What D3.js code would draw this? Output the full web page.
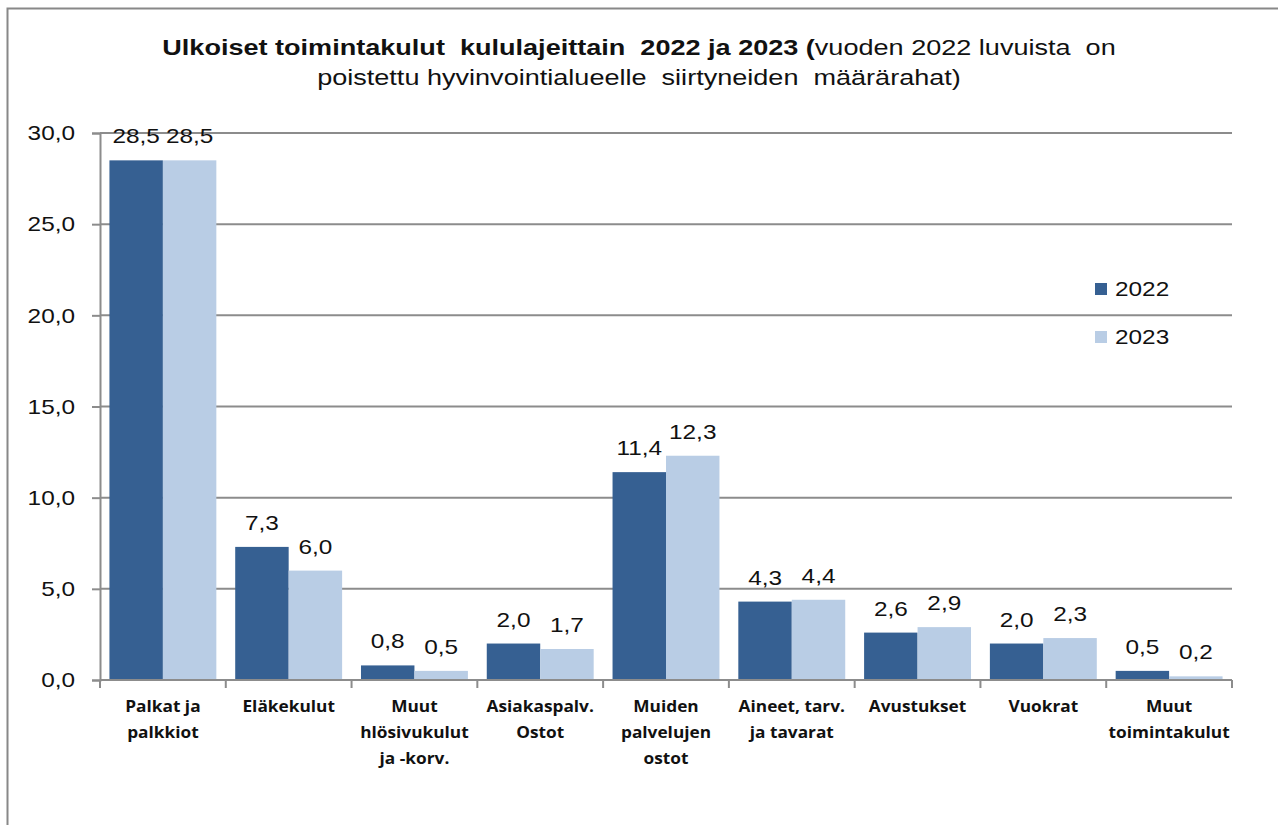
<!DOCTYPE html>
<html><head><meta charset="utf-8">
<script src="https://cdn.jsdelivr.net/npm/d3@7"></script>
<style>body{margin:0;background:#fff}svg{display:block}</style>
</head><body>
<svg id="c" width="1278" height="825"></svg>
<script>
const categories = [["Palkat ja","palkkiot"],["Eläkekulut"],["Muut","hlösivukulut","ja -korv."],["Asiakaspalv.","Ostot"],["Muiden","palvelujen","ostot"],["Aineet, tarv.","ja tavarat"],["Avustukset"],["Vuokrat"],["Muut","toimintakulut"]];
const series = ["2022","2023"];
const values2022 = [28.5,7.3,0.8,2.0,11.4,4.3,2.6,2.0,0.5];
const values2023 = [28.5,6.0,0.5,1.7,12.3,4.4,2.9,2.3,0.2];
const yTicks = [0,5,10,15,20,25,30];
const colors = ["#366092","#B9CDE5"];

const SX = 1.16; // horizontal glyph stretch of the reference
const FONT = "Liberation Sans, Arial, sans-serif";
const svg = d3.select("#c");
const fmt = v => v.toFixed(1).replace(".", ",");
svg.append("path").attr("d","M7.5,825 V8.5 H1278").attr("fill","none").attr("stroke","#888").attr("stroke-width",2);

const L=100,R=1232,T=133,B=680;
const x0 = d3.scaleBand().domain(d3.range(categories.length)).range([L,R]).paddingInner(0.15).paddingOuter(0.075);
const x1 = d3.scaleBand().domain(series).range([0,x0.bandwidth()]);
const y = d3.scaleLinear().domain([0,30]).range([B,T]);

svg.append("g").selectAll("line").data(yTicks.filter(d=>d>0)).join("line")
  .attr("x1",L).attr("x2",R).attr("y1",d=>y(d)).attr("y2",d=>y(d))
  .attr("stroke","#8c8c8c").attr("stroke-width",2);

const ya = svg.append("g").attr("transform",`translate(${L},0)`)
  .call(d3.axisLeft(y).tickValues(yTicks).tickFormat(fmt).tickSize(8).tickPadding(16));
ya.select(".domain").attr("stroke","#8c8c8c").attr("stroke-width",2);
ya.selectAll(".tick line").attr("stroke","#8c8c8c").attr("stroke-width",2);
ya.selectAll("text").attr("font-family",FONT).attr("font-size",21).attr("fill","#111")
  .attr("x",-25/SX).attr("transform",`scale(${SX},1)`);

const data = values2022.map((v,i)=>({i,vals:[v,values2023[i]]}));
const g = svg.append("g").selectAll("g").data(data).join("g").attr("transform",d=>`translate(${x0(d.i)},0)`);
g.selectAll("rect").data(d=>d.vals.map((v,k)=>({v,k}))).join("rect")
  .attr("x",d=>x1(series[d.k])).attr("width",x1.bandwidth())
  .attr("y",d=>y(d.v)).attr("height",d=>B-y(d.v)).attr("fill",d=>colors[d.k]);
g.selectAll("text").data(d=>d.vals.map((v,k)=>({v,k}))).join("text")
  .attr("transform",d=>`translate(${x1(series[d.k])+x1.bandwidth()/2},${y(d.v)-17}) scale(${SX},1)`)
  .attr("text-anchor","middle").attr("font-family",FONT).attr("font-size",21).attr("fill","#111")
  .text(d=>fmt(d.v));

const step = x0.step();
const xb = [L]; categories.forEach((c,i)=>xb.push(L+step*(i+1)));
svg.append("line").attr("x1",L).attr("x2",R).attr("y1",B).attr("y2",B).attr("stroke","#8c8c8c").attr("stroke-width",2);
svg.append("g").selectAll("line").data(xb).join("line")
  .attr("x1",d=>d).attr("x2",d=>d).attr("y1",B).attr("y2",B+8).attr("stroke","#8c8c8c").attr("stroke-width",2);
const cl = svg.append("g").selectAll("text").data(categories).join("text")
  .attr("transform",(d,i)=>`translate(${x0(i)+x0.bandwidth()/2},712) scale(1.08,1)`)
  .attr("text-anchor","middle").attr("font-family","Open Sans, sans-serif").attr("font-weight","bold").attr("font-size",16).attr("fill","#111");
cl.selectAll("tspan").data(d=>d).join("tspan").attr("x",0)
  .attr("dy",(d,j)=>j===0?0:26).text(d=>d);

const lg = svg.append("g").selectAll("g").data(series).join("g").attr("transform",(d,i)=>`translate(1095,${283+i*48})`);
lg.append("rect").attr("width",12).attr("height",12).attr("fill",(d,i)=>colors[i]);
lg.append("text").attr("transform",`translate(20,13) scale(${SX},1)`).attr("font-family",FONT).attr("font-size",21).attr("fill","#111").text(d=>d);

const t = svg.append("text").attr("transform","translate(639,0) scale(1.23,1)").attr("text-anchor","middle").attr("font-family",FONT).attr("font-size",22).attr("fill","#111");
const l1 = t.append("tspan").attr("x",0).attr("y",55);
l1.append("tspan").attr("font-weight","bold").text("Ulkoiset toimintakulut  kululajeittain  2022 ja 2023 (");
l1.append("tspan").text("vuoden 2022 luvuista  on");
t.append("tspan").attr("x",0).attr("y",85).text("poistettu hyvinvointialueelle  siirtyneiden  määrärahat)");
svg.selectAll("text").style("white-space","pre");
</script>
</body></html>
